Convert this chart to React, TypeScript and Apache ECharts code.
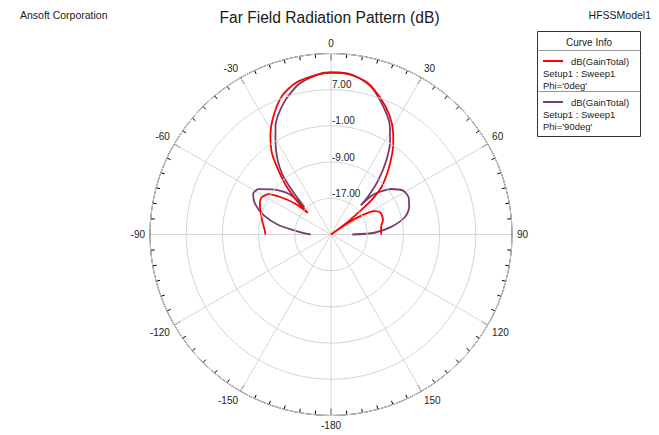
import React, { useEffect, useRef } from "react";
import * as echarts from "echarts";

const FONT = '"Liberation Sans", Arial, sans-serif';

const TITLE = "Far Field Radiation Pattern (dB)";
const COMPANY = "Ansoft Corporation";
const MODEL = "HFSSModel1";
const LEGEND_TITLE = "Curve Info";

// angle ticks (deg) and radial ticks (dB)
const ANGLE_MIN = 0;
const ANGLE_MAX = 360;
const ANGLE_STEP = 30;
const R_MIN = -25;
const R_MAX = 15;
const R_STEP = 8;

// Phi = 0deg
const THETA_PHI0 = [-90, -86, -78, -69, -66, -62, -57, -53, -49, -47, -45.5, -43, -39.5, -36, -31.4, -25.7, -19.4, -13, -5.2, 0, 5.7, 13.5, 20.3, 26.2, 31.2, 34, 37, 42, 46.9, 49.7, 51, 53, 54.5, 56, 58, 61.6, 64, 67, 74.7, 81.3, 90];
const GAIN_PHI0 = [-10.5, -10.3, -9.4, -8.2, -7.8, -7.6, -8.6, -11.5, -14.7, -18, -14.7, -10.8, -6.9, -2.8, 0.7, 4.2, 7.5, 9.4, 10.4, 10.8, 10.7, 9.5, 6.9, 4.3, 1.5, -0.4, -2.5, -6.2, -9.8, -13.4, -16.6, -20, -25, -20, -17, -14.1, -13.4, -13.0, -13.1, -13.8, -13.9];

// Phi = 90deg
const THETA_PHI90 = [-90, -87, -84, -80, -74, -68, -62.5, -58, -52.5, -46, -44.3, -41.5, -39, -35.2, -30.9, -27, -19.6, -12, -4, 0, 7.6, 15, 21.9, 28.3, 32.5, 37, 41.2, 44.5, 45.7, 47, 53, 59, 64.4, 70.7, 76.7, 82.8, 87.7, 90];
const GAIN_PHI90 = [-20.5, -19, -17.2, -13.3, -9.5, -6.9, -5.6, -6.1, -8.6, -12.1, -16.6, -12.1, -7.9, -4.4, -1.1, 2.0, 6.0, 9.0, 10.6, 10.8, 10.6, 8.9, 5.7, 2.4, -0.7, -4.8, -9.3, -13.5, -15.8, -11.9, -8.3, -6.3, -6.0, -6.7, -8.2, -11.6, -15.4, -20.3];

const SERIES_NAMES = ["Phi='0deg'", "Phi='90deg'"];
const SERIES_COLORS = ["#ff0000", "#7a3d6b"];
const LEGEND_QUANTITY = "dB(GainTotal)";
const LEGEND_SETUP = "Setup1 : Sweep1";

const toAngle = (t: number) => (t < 0 ? t + 360 : t);

function buildLegend() {
  const x0 = 537.5;
  const y0 = 31.5;
  const w = 103;
  const h = 105;
  const els: any[] = [
    { type: "rect", shape: { x: x0, y: y0, width: w, height: h }, style: { fill: "#fff", stroke: "#333", lineWidth: 1 } },
    {
      type: "text", x: x0 + w / 2, y: 42,
      style: { text: LEGEND_TITLE, fill: "#222", font: `10px ${FONT}`, textAlign: "center", textVerticalAlign: "middle", align: "center", verticalAlign: "middle" },
    },
    { type: "line", shape: { x1: x0, y1: 50.5, x2: x0 + w, y2: 50.5 }, style: { stroke: "#999", lineWidth: 1 } },
    { type: "line", shape: { x1: x0, y1: 91.5, x2: x0 + w, y2: 91.5 }, style: { stroke: "#999", lineWidth: 1 } },
  ];
  const tops = [61, 102];
  SERIES_NAMES.forEach((name, i) => {
    const y = tops[i];
    els.push({ type: "line", shape: { x1: 543, y1: y, x2: 563, y2: y }, style: { stroke: SERIES_COLORS[i], lineWidth: 2 } });
    const lines = [LEGEND_QUANTITY, LEGEND_SETUP, name];
    lines.forEach((t, j) => {
      els.push({
        type: "text",
        x: j === 0 ? 571 : 543,
        y: y + j * 12,
        style: { text: t, fill: "#222", font: `9.5px ${FONT}`, textAlign: "left", textVerticalAlign: "middle", align: "left", verticalAlign: "middle" },
      });
    });
  });
  return els;
}

export default function App() {
  const ref = useRef<HTMLDivElement>(null);
  useEffect(() => {
    const chart = echarts.init(ref.current!, null, { renderer: "svg" });
    const option: any = {
      animation: false,
      backgroundColor: "#ffffff",
      textStyle: { fontFamily: FONT },
      title: [
        { text: TITLE, left: "center", top: 9, padding: 0, textStyle: { fontSize: 15.6, fontWeight: "normal", color: "#1a1a1a", fontFamily: FONT } },
        { text: COMPANY, left: 20, top: 9, padding: 0, textStyle: { fontSize: 10.5, fontWeight: "normal", color: "#1a1a1a", fontFamily: FONT } },
        { text: MODEL, right: 8, top: 9, padding: 0, textStyle: { fontSize: 10.5, fontWeight: "normal", color: "#1a1a1a", fontFamily: FONT } },
      ],
      polar: { center: [331, 234.5], radius: 181 },
      angleAxis: {
        type: "value",
        min: ANGLE_MIN,
        max: ANGLE_MAX,
        interval: ANGLE_STEP,
        startAngle: 90,
        clockwise: true,
        axisLine: { show: true, lineStyle: { color: "#000", width: 1 } },
        axisTick: { show: true, inside: true, length: 7, lineStyle: { color: "#000", width: 1 } },
        minorTick: { show: true, splitNumber: 6, length: 4, lineStyle: { color: "#000", width: 1 } },
        splitLine: { show: true, lineStyle: { color: "#d6d6d6", width: 1 } },
        axisLabel: {
          margin: 5,
          fontSize: 10,
          color: "#222",
          fontFamily: FONT,
          formatter: (v: number) => {
            if (v === 360) return "";
            if (v === 180) return "-180";
            return String(v > 180 ? v - 360 : v);
          },
        },
      },
      radiusAxis: {
        type: "value",
        min: R_MIN,
        max: R_MAX,
        interval: R_STEP,
        axisLine: { show: false },
        axisTick: { show: false },
        splitLine: { show: true, lineStyle: { color: "#d6d6d6", width: 1 } },
        axisLabel: {
          margin: -1,
          align: "left",
          verticalAlign: "bottom",
          fontSize: 10,
          color: "#222",
          fontFamily: FONT,
          formatter: (v: number) => (v === R_MIN || v === R_MAX ? "" : v.toFixed(2)),
        },
        z: 10,
      },
      series: [
        {
          type: "line",
          name: SERIES_NAMES[0],
          coordinateSystem: "polar",
          data: THETA_PHI0.map((t, i) => [GAIN_PHI0[i], toAngle(t)]),
          showSymbol: false,
          symbol: "none",
          smooth: 0.25,
          lineStyle: { color: SERIES_COLORS[0], width: 1.8 },
          itemStyle: { color: SERIES_COLORS[0] },
          z: 3,
        },
        {
          type: "line",
          name: SERIES_NAMES[1],
          coordinateSystem: "polar",
          data: THETA_PHI90.map((t, i) => [GAIN_PHI90[i], toAngle(t)]),
          showSymbol: false,
          symbol: "none",
          smooth: 0.25,
          lineStyle: { color: SERIES_COLORS[1], width: 1.8 },
          itemStyle: { color: SERIES_COLORS[1] },
          z: 2,
        },
      ],
      graphic: buildLegend(),
    };
    chart.setOption(option);
    return () => chart.dispose();
  }, []);
  return (
    <div
      ref={ref}
      style={{ position: "fixed", left: 0, top: 0, width: 659, height: 435, background: "#fff" }}
    />
  );
}
